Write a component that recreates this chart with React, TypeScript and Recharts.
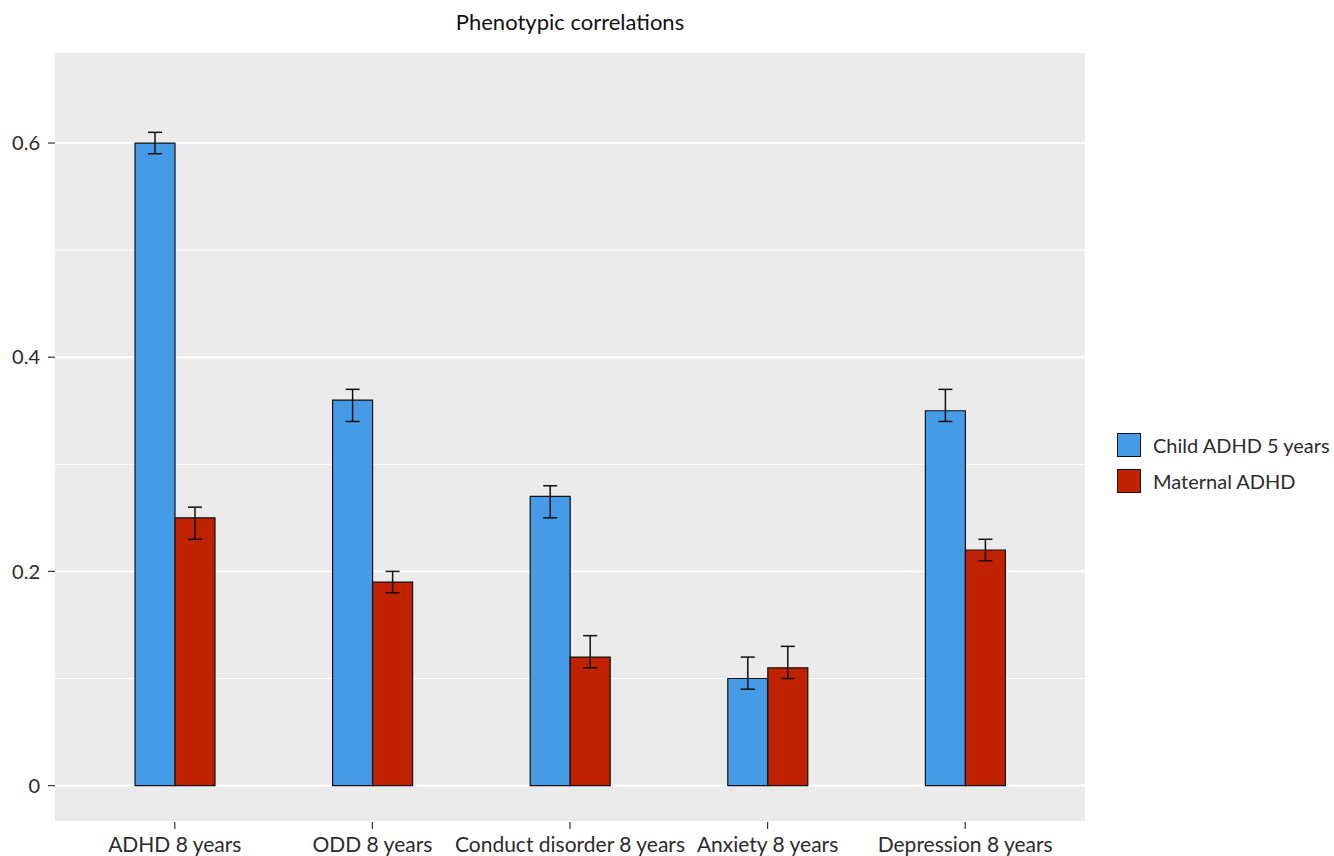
import { BarChart, Bar, XAxis, YAxis, CartesianGrid, ErrorBar } from "recharts";

// Phenotypic correlations of child ADHD (5 yrs) and maternal ADHD with outcomes at 8 yrs
const categories = [
  "ADHD 8 years",
  "ODD 8 years",
  "Conduct disorder 8 years",
  "Anxiety 8 years",
  "Depression 8 years",
];
const childAdhd = [0.6, 0.36, 0.27, 0.1, 0.35];
const childLow = [0.59, 0.34, 0.25, 0.09, 0.34];
const childHigh = [0.61, 0.37, 0.28, 0.12, 0.37];
const maternalAdhd = [0.25, 0.19, 0.12, 0.11, 0.22];
const maternalLow = [0.23, 0.18, 0.11, 0.1, 0.21];
const maternalHigh = [0.26, 0.2, 0.14, 0.13, 0.23];
const yTicks = [0, 0.2, 0.4, 0.6];
const minorTicks = [0.1, 0.3, 0.5];

const BLUE = "#459be6";
const RED = "#c02200";
const FONT = "Lato, 'Noto Sans', sans-serif";

const data = categories.map((category, i) => ({
  category,
  child: childAdhd[i],
  childErr: [childAdhd[i] - childLow[i], childHigh[i] - childAdhd[i]],
  maternal: maternalAdhd[i],
  maternalErr: [maternalAdhd[i] - maternalLow[i], maternalHigh[i] - maternalAdhd[i]],
}));

const xTickStyle = { fontSize: 21, fontFamily: FONT, fill: "#2b2b2b" };
const yTickStyle = { fontSize: 20, fontFamily: FONT, fill: "#2b2b2b" };

export default function App() {
  return (
    <div style={{ position: "absolute", left: 0, top: 0, width: 1334, height: 856, overflow: "hidden", background: "#fff" }}>
      <div
        style={{
          position: "absolute",
          left: 570,
          top: 8,
          transform: "translateX(-50%)",
          fontFamily: FONT,
          fontSize: 22,
          color: "#111",
          whiteSpace: "nowrap",
        }}
      >
        Phenotypic correlations
      </div>

      <BarChart
        width={1334}
        height={856}
        data={data}
        margin={{ top: 52, right: 249, bottom: 0, left: 0 }}
        barCategoryGap={59}
        barGap={0}
      >
        <CartesianGrid vertical={false} fill="#ebebeb" fillOpacity={1} stroke="#fff" strokeWidth={2} />
        <CartesianGrid vertical={false} yAxisId="minor" stroke="#fff" strokeWidth={1} />
        <XAxis
          dataKey="category"
          interval={0}
          padding={{ left: 21, right: 21 }}
          height={34}
          axisLine={false}
          tickSize={7}
          tickMargin={8}
          tickLine={{ stroke: "#333", strokeWidth: 1.2 }}
          tick={xTickStyle}
        />
        <YAxis
          domain={[-0.034, 0.685]}
          allowDataOverflow
          ticks={yTicks}
          tickFormatter={(v) => (v === 0 ? "0" : String(v))}
          width={55}
          axisLine={false}
          tickSize={7}
          tickMargin={8}
          tickLine={{ stroke: "#333", strokeWidth: 1.2 }}
          tick={yTickStyle}
        />
        <YAxis yAxisId="minor" hide domain={[-0.034, 0.685]} allowDataOverflow ticks={minorTicks} />
        <Bar dataKey="child" fill={BLUE} stroke="#111" strokeWidth={1.2} isAnimationActive={false}>
          <ErrorBar dataKey="childErr" direction="y" width={7} stroke="#111" strokeWidth={1.5} />
        </Bar>
        <Bar dataKey="maternal" fill={RED} stroke="#111" strokeWidth={1.2} isAnimationActive={false}>
          <ErrorBar dataKey="maternalErr" direction="y" width={7} stroke="#111" strokeWidth={1.5} />
        </Bar>
      </BarChart>

      <div
        style={{
          position: "absolute",
          left: 1117,
          top: 433,
          fontFamily: FONT,
          fontSize: 20,
          color: "#2b2b2b",
        }}
      >
        {[
          { label: "Child ADHD 5 years", color: BLUE },
          { label: "Maternal ADHD", color: RED },
        ].map((item) => (
          <div key={item.label} style={{ display: "flex", alignItems: "center", height: 24, marginBottom: 12 }}>
            <div
              style={{
                width: 22,
                height: 22,
                background: item.color,
                border: "1.5px solid #111",
                marginRight: 12,
              }}
            />
            <span style={{ whiteSpace: "nowrap" }}>{item.label}</span>
          </div>
        ))}
      </div>
    </div>
  );
}
